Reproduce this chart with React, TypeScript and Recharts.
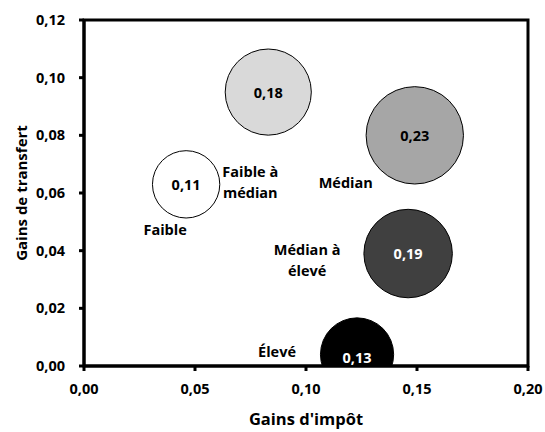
import React from 'react';
import { ScatterChart, Scatter, XAxis, YAxis, ZAxis, Cell, ReferenceArea, Label } from 'recharts';

// groupes de revenu
const categories = ['Faible', 'Faible à médian', 'Médian', 'Médian à élevé', 'Élevé'];
// Gains d'impôt (x)
const taxGains = [0.046, 0.083, 0.149, 0.146, 0.123];
// Gains de transfert (y)
const transferGains = [0.063, 0.095, 0.080, 0.039, 0.004];
// taille des bulles
const bubbleValues = [0.11, 0.18, 0.23, 0.19, 0.13];

const xTicks = [0, 0.05, 0.1, 0.15, 0.2];
const yTicks = [0, 0.02, 0.04, 0.06, 0.08, 0.1, 0.12];

// styles
const fills = ['#ffffff', '#d9d9d9', '#a6a6a6', '#404040', '#000000'];
const valueColors = ['#000000', '#000000', '#000000', '#ffffff', '#ffffff'];
const labelOffsets = [
    { dx: -21, dy: 45 },
    { dx: -18, dy: 90 },
    { dx: -69, dy: 47 },
    { dx: -101, dy: 6 },
    { dx: -80, dy: -3 },
];
const valueShift = [0, 0, 0, 0, 3];

const data = categories.map((name, i) => ({
    name,
    x: taxGains[i],
    y: transferGains[i],
    z: bubbleValues[i],
    idx: i,
}));

const fmt = (v: number) => v.toFixed(2).replace('.', ',');

const FONT = '"Open Sans", Lato, sans-serif';
const FS = 14.5;

const Bubble = (props: any) => {
    const { cx, cy, payload } = props;
    const i = payload.idx;
    const r = props.width ? props.width / 2 : Math.sqrt((props.size || 0) / Math.PI);
    const name: string = payload.name;
    const cut = name.lastIndexOf(' ');
    const lines = name.includes(' à ') ? [name.slice(0, cut), name.slice(cut + 1)] : [name];
    const off = labelOffsets[i];
    return (
        <g>
            <circle cx={cx} cy={cy} r={r} fill={fills[i]} stroke="#000" strokeWidth={1} />
            <text
                x={cx}
                y={cy + valueShift[i]}
                textAnchor="middle"
                dominantBaseline="central"
                fill={valueColors[i]}
                fontSize={FS}
                fontWeight={700}
                fontFamily={FONT}
            >
                {fmt(payload.z)}
            </text>
            {lines.map((ln, k) => (
                <text
                    key={k}
                    x={cx + off.dx}
                    y={cy + off.dy + (k - (lines.length - 1) / 2) * 21}
                    textAnchor="middle"
                    dominantBaseline="central"
                    fill="#000"
                    fontSize={FS}
                    fontWeight={700}
                    fontFamily={FONT}
                >
                    {ln}
                </text>
            ))}
        </g>
    );
};

const tickStyle = { fill: '#000', fontSize: FS, fontWeight: 700, fontFamily: FONT };

export default function App() {
    return (
        <div style={{ position: 'absolute', left: 0, top: 0, width: 545, height: 432, background: '#fff' }}>
            <ScatterChart width={545} height={432} margin={{ top: 20, right: 17, bottom: 0, left: 0 }}>
                <XAxis
                    type="number"
                    dataKey="x"
                    domain={[0, 0.2]}
                    ticks={xTicks}
                    tickFormatter={fmt}
                    height={66}
                    axisLine={{ stroke: '#000', strokeWidth: 3 }}
                    tickLine={{ stroke: '#000', strokeWidth: 3 }}
                    tickSize={5}
                    tickMargin={13}
                    tick={tickStyle}
                    interval={0}
                >
                    <Label
                        value="Gains d'impôt"
                        position="insideBottom"
                        offset={7}
                        style={{ fill: '#000', fontSize: 16.5, fontWeight: 700, fontFamily: FONT }}
                    />
                </XAxis>
                <YAxis
                    type="number"
                    dataKey="y"
                    domain={[0, 0.12]}
                    ticks={yTicks}
                    tickFormatter={fmt}
                    width={84}
                    allowDataOverflow
                    axisLine={{ stroke: '#000', strokeWidth: 3 }}
                    tickLine={{ stroke: '#000', strokeWidth: 3 }}
                    tickSize={5}
                    tickMargin={14}
                    tick={tickStyle}
                    interval={0}
                >
                    <Label
                        value="Gains de transfert"
                        angle={-90}
                        position="insideLeft"
                        offset={22}
                        style={{ textAnchor: 'middle', fill: '#000', fontSize: 15, fontWeight: 700, fontFamily: FONT }}
                    />
                </YAxis>
                <ZAxis type="number" dataKey="z" domain={[0, 1]} range={[0, 32365]} />
                <Scatter data={data} shape={<Bubble />} isAnimationActive={false}>
                    {data.map((d, i) => (
                        <Cell key={d.name} fill={fills[i]} />
                    ))}
                </Scatter>
                <ReferenceArea
                    x1={0}
                    x2={0.2}
                    y1={0}
                    y2={0.12}
                    fill="none"
                    fillOpacity={0}
                    stroke="#000"
                    strokeWidth={3}
                />
            </ScatterChart>
        </div>
    );
}
